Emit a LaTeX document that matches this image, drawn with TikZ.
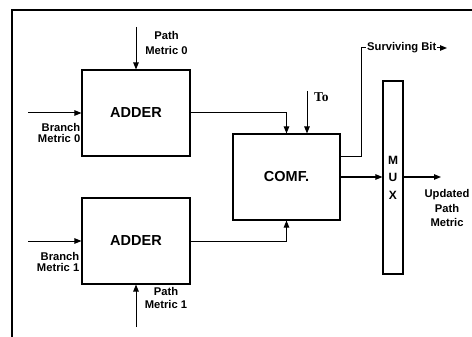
\documentclass[tikz,border=0pt]{standalone}
\usepackage{fontspec}
\setmainfont{Liberation Sans}
\newfontfamily\toserif{Liberation Serif}
\usetikzlibrary{arrows.meta, calc}
\tikzset{
    block/.style={rectangle, draw, line width=1.1pt, minimum width=108pt, minimum height=86pt,
                  inner sep=0pt, align=center, font=\fontsize{14.5}{16}\selectfont\bfseries},
    muxbox/.style={rectangle, draw, line width=1.1pt, minimum width=20pt, minimum height=193pt,
                   inner sep=0pt, align=center, font=\fontsize{12}{17.5}\selectfont\bfseries},
    lbl/.style={inner sep=0pt, font=\fontsize{11.2}{11.5}\selectfont\bfseries},
    arrow/.style={-{Triangle[length=7pt, width=5.5pt]}, line width=1pt},
    frame/.style={line width=2.5pt},
}

\begin{document}
\begin{tikzpicture}[x=1pt, y=-1pt]

    \useasboundingbox (0,0) rectangle (472,337);

    % Outer frame
    \draw[frame] (12,345) |- (480,10);

    % Blocks
    \node[block] at (136,113) (add0) {ADDER};
    \node[block] at (136,241) (add1) {ADDER};
    \node[block, minimum width=107pt] at (286.5,177) (comp) {COMF.};
    \node[muxbox] at (393,177.5) (mux) {M\\U\\X};

    % Inputs
    \coordinate (bm0) at (28,113);
    \coordinate (pm0) at (136,27);
    \coordinate (bm1) at (28,241);
    \coordinate (pm1) at (136,327);
    \draw[arrow] (bm0) -- (add0.west);
    \draw[arrow] (pm0) -- (add0.north);
    \draw[arrow] (bm1) -- (add1.west);
    \draw[arrow] (pm1) -- (add1.south);

    \node[lbl, align=right, anchor=north east] at (80.5,123) (bm0lbl) {Branch\\Metric 0};
    \node[lbl, align=center, anchor=north, font=\fontsize{11.2}{15}\selectfont\bfseries]
        at (166.5,31) (pm0lbl) {Path\\Metric 0};
    \node[lbl, align=right, anchor=north east] at (79.5,252) (bm1lbl) {Branch\\Metric 1};
    \node[lbl, align=center, anchor=north, font=\fontsize{11.2}{12.5}\selectfont\bfseries]
        at (166,287.5) (pm1lbl) {Path\\Metric 1};

    % Adders to comparator
    \draw[arrow] (add0.east) -| (comp.north);
    \draw[arrow] (add1.east) -| (comp.south);

    \coordinate (to) at (307,91);
    \draw[arrow] (to) -- (to |- comp.north);
    \node[inner sep=0pt, anchor=west, font=\toserif\fontsize{13.5}{14}\selectfont\bfseries]
        at (314,97) (tolbl) {To};

    % Surviving bit
    \coordinate (sbend) at (447,48);
    \draw[arrow] ([yshift=20pt]comp.east) -- ++(21,0) |- (sbend);
    \node[lbl, fill=white, inner xsep=1pt, anchor=west] at (366,48) (sbit) {Surviving Bit};

    % Comparator to mux and output
    \draw[arrow] (comp.east) -- (comp.east -| mux.west);
    \coordinate (upd) at (441,177);
    \draw[arrow] (mux.east |- upd) -- (upd);
    \node[lbl, align=center, anchor=north, font=\fontsize{11.2}{14.5}\selectfont\bfseries]
        at (447,189.5) (updlbl) {Updated\\Path\\Metric};

\end{tikzpicture}
\end{document}
